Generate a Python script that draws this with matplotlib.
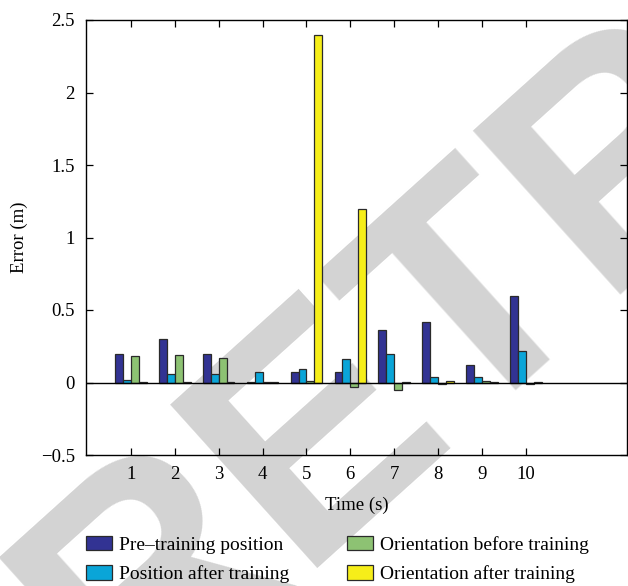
import matplotlib
matplotlib.use('Agg')
import matplotlib.pyplot as plt
import numpy as np
from matplotlib.ticker import FuncFormatter

# data
times = [1, 2, 3, 4, 5, 6, 7, 8, 9, 10]
series_names = ["Pre\u2013training position", "Position after training",
                "Orientation before training", "Orientation after training"]
pre_training_pos = [0.20, 0.30, 0.20, 0.003, 0.07, 0.07, 0.36, 0.42, 0.12, 0.60]
pos_after_training = [0.02, 0.06, 0.06, 0.07, 0.09, 0.16, 0.20, 0.04, 0.04, 0.22]
ori_before_training = [0.18, 0.19, 0.17, 0.003, 0.01, -0.03, -0.05, -0.01, 0.01, -0.01]
ori_after_training = [0.004, 0.002, 0.002, 0.002, 2.40, 1.20, 0.003, 0.01, 0.005, 0.002]
y_ticks = [-0.5, 0, 0.5, 1, 1.5, 2, 2.5]

colors = ["#323393", "#0aa5d8", "#8dc273", "#f6ee19"]

plt.rcParams['font.family'] = ['Liberation Serif', 'DejaVu Serif']
plt.rcParams['font.size'] = 13.5

fig = plt.figure(figsize=(6.28, 5.86), dpi=100)

# watermark behind everything
fig.text(126 / 628, 1 - 722 / 586, "RETRACTED", rotation=42, rotation_mode='anchor',
         ha='left', va='baseline', fontsize=230, fontweight='bold',
         family='Liberation Sans', color='#d3d3d3', zorder=0)

ax = fig.add_axes([86 / 628, 1 - 455 / 586, (627 - 86) / 628, (455 - 20) / 586])
ax.set_zorder(1)
ax.patch.set_alpha(0)

x = np.array(times, dtype=float)
width = 0.18
offsets = [-0.27, -0.09, 0.09, 0.27]
all_series = [pre_training_pos, pos_after_training, ori_before_training, ori_after_training]
handles = []
for vals, off, col, name in zip(all_series, offsets, colors, series_names):
    b = ax.bar(x + off, vals, width, color=col, edgecolor='#2a2a2a', linewidth=0.9,
               label=name, zorder=3)
    handles.append(b)

ax.axhline(0, color='k', lw=1.0, zorder=4)

ax.set_xlim(-0.02, 12.3)
ax.set_ylim(-0.5, 2.5)
ax.set_xticks(times)
ax.set_yticks(y_ticks)
ax.yaxis.set_major_formatter(FuncFormatter(lambda v, p: ('%g' % v).replace('-', '\u2212')))
ax.tick_params(direction='in', top=True, right=True, length=5, width=0.9, pad=8)
for s in ax.spines.values():
    s.set_linewidth(1.0)
ax.set_xlabel("Time (s)", labelpad=10)
ax.set_ylabel("Error (m)", labelpad=9)

fig.legend(handles=handles, loc='upper left', bbox_to_anchor=(78 / 628, 1 - 528 / 586),
           ncol=2, frameon=False, fontsize=14, handlelength=1.34, handleheight=0.77,
           handletextpad=0.36, columnspacing=3.0, labelspacing=0.6, borderaxespad=0)

fig.savefig("out.png", dpi=100)
